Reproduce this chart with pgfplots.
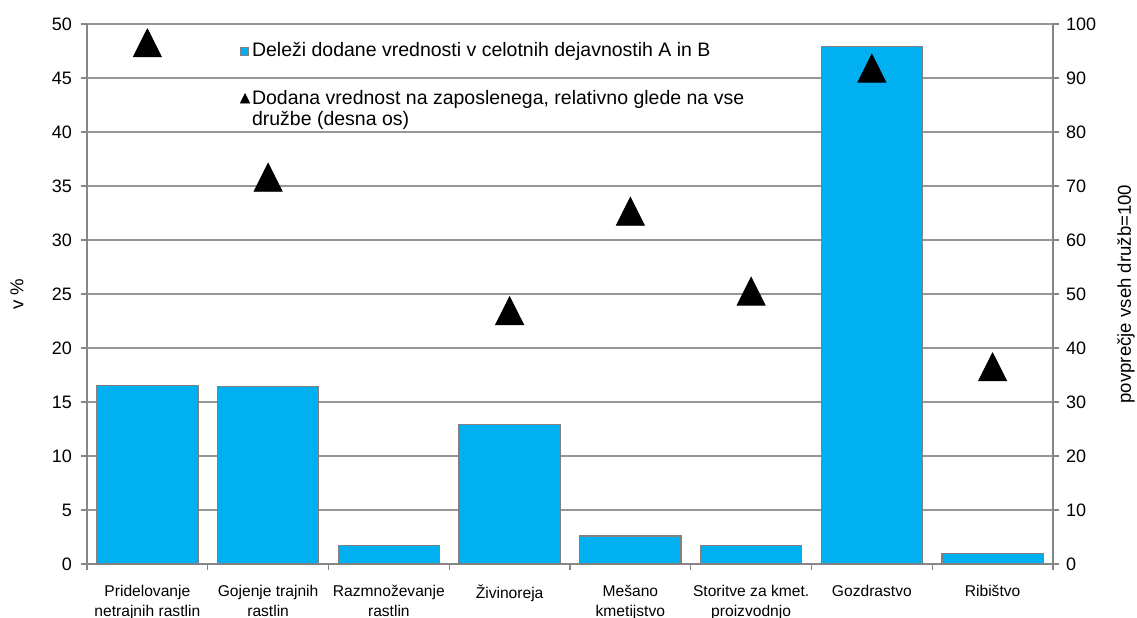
\documentclass[border=0pt]{standalone}
\usepackage{pgfplots}
\pgfplotsset{compat=1.18}
\usepackage{fontspec}
\setmainfont{Liberation Sans}

\definecolor{barblue}{RGB}{0,176,240}
\definecolor{axgray}{RGB}{134,134,134}
\definecolor{bargray}{RGB}{128,128,128}
\definecolor{gridgray}{RGB}{150,150,150}

% shares of value added (left axis, %)
\pgfplotstableread{
x val
0 16.5
1 16.4
2 1.7
3 12.9
4 2.6
5 1.7
6 47.9
7 1.0
}\shares

% value added per employee, all companies = 100 (right axis)
\pgfplotstableread{
x rel
0 96.5
1 71.6
3 46.9
4 65.3
5 50.5
6 91.8
7 36.5
}\relval

\pgfplotsset{
  base/.style={
    width=483pt, height=270pt, scale only axis,
    xmin=-0.5, xmax=7.5,
    /pgf/number format/assume math mode=true,
    tick label style={font=\fontsize{9}{10}\selectfont},
    tick align=outside,
    major tick length=3pt, minor tick length=3pt,
    tick style={axgray, line width=0.6pt},
    axis line style={axgray, line width=0.7pt},
    label style={font=\fontsize{9.3}{10}\selectfont},
  }
}

\begin{document}
\begin{tikzpicture}
\useasboundingbox (-43.5pt,-26.5pt) rectangle (525pt,282pt);
\clip (-43.5pt,-26.5pt) rectangle (525pt,282pt);

\begin{axis}[base,
  ybar, bar width=0.84,
  ymin=0, ymax=50, ytick={0,5,...,50},
  axis x line*=bottom, axis y line*=left,
  ymajorgrids, grid style={gridgray, line width=0.6pt},
  xtick={0,...,7},
  major x tick style={draw=none},
  minor xtick={-0.5,0.5,...,7.5},
  xticklabels={{Pridelovanje\\netrajnih rastlin},{Gojenje trajnih\\rastlin},
    {Razmnoževanje\\rastlin},{Živinoreja},{Mešano\\kmetijstvo},
    {Storitve za kmet.\\proizvodnjo},{Gozdrastvo},{Ribištvo}},
  xticklabel style={align=center, font=\fontsize{7.8}{10}\selectfont, yshift=-4pt},
  yticklabel style={xshift=-1pt},
  ylabel={v \%},
  ylabel style={at={(axis description cs:-0.0725,0.5)}, anchor=center},
]
\addplot[fill=barblue, draw=bargray, line width=0.6pt] table[x=x, y=val]{\shares};
\end{axis}

\begin{axis}[base,
  ymin=0, ymax=100, ytick={0,10,...,100},
  axis y line*=right, axis x line=none,
  ylabel={povprečje vseh družb=100},
  ylabel style={at={(axis description cs:1.0756,0.5)}, anchor=center},
  legend style={at={(axis description cs:0.158,0.970)}, anchor=north west,
    draw=none, fill=none, row sep=13pt, inner sep=0pt,
    nodes={inner sep=1pt, font=\fontsize{9.75}{10.5}\selectfont}},
  legend cell align=left,
]
\addlegendimage{legend image code/.code={
  \draw[fill=barblue, draw=bargray, line width=0.4pt] (0pt,-2pt) rectangle (4pt,2pt);}}
\addlegendentry{Deleži dodane vrednosti v celotnih dejavnostih A in B}
\addplot[only marks, mark=triangle*, mark size=9.3pt, black,
  mark options={yshift=-2.3pt, xscale=0.87},
  legend image code/.code={\fill[black] (0pt,-2.2pt) -- (4.6pt,-2.2pt) -- (2.3pt,2.4pt) -- cycle;}]
  table[x=x, y=rel]{\relval};
\addlegendentry{\begin{tabular}[t]{@{}l@{}}Dodana vrednost na zaposlenega, relativno glede na vse\\družbe (desna os)\end{tabular}}
\end{axis}
\end{tikzpicture}
\end{document}
